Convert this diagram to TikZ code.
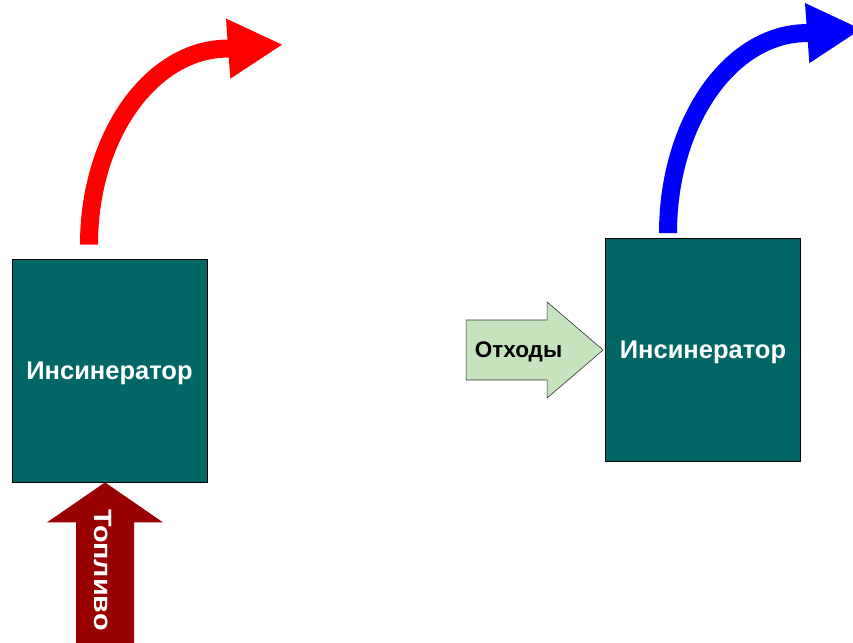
\documentclass[tikz,border=0pt]{standalone}
\usepackage{fontspec}
\setmainfont{Liberation Sans}
\usetikzlibrary{calc}
\usetikzlibrary{arrows.meta}
\definecolor{insteal}{RGB}{0,102,102}
\definecolor{fuelred}{RGB}{153,0,0}
\definecolor{wastegreen}{RGB}{197,227,189}
\begin{document}
\begin{tikzpicture}[x=1pt,y=1pt,
  ins/.style={draw=black,line width=0.8pt,fill=insteal,minimum width=195pt,minimum height=223pt,
    inner sep=0pt,text depth=0pt,text=white,font=\fontsize{25.5}{30}\selectfont\bfseries},
  lbl/.style={text depth=0pt,font=\bfseries},
  flow/.style={line width=18pt,-{Triangle[length=55pt,width=56pt]}}]
    \useasboundingbox (0,0) rectangle (853,642);
    \node[ins] (insL) at (109.5,271.5) {Инсинератор};
    \node[ins] (insR) at (703,292) {Инсинератор};
    \draw[flow,red] ($(insL.north)+(-20.5,14)$) 
        arc[start angle=180,end angle=90,x radius=139,y radius=196] -- ++(55,4);
    \draw[flow,blue] ($(insR.north)+(-35,5)$) 
        arc[start angle=180,end angle=90,x radius=139,y radius=200] -- ++(55,4);
    \fill[fuelred] ($(insL.south)+(-4.5,0)$) coordinate (fueltip) -- ++(58,-40) -- ++(-29,0) 
        -- ++(0,-130) -- ++(-58,0) -- ++(0,130) -- ++(-29,0) -- cycle;
    \node[lbl,font=\fontsize{25}{30}\selectfont\bfseries,rotate=-90,xscale=1.15,text=white] (fuel) at (103,72) {Топливо};
    \draw[fill=wastegreen,draw=black!80,line width=0.6pt] ($(insR.west)+(-2,0)$) coordinate (wastetip) 
        -- ++(-56,48) -- ++(0,-18) -- ++(-81,0) -- ++(0,-60) -- ++(81,0) -- ++(0,-18) -- cycle;
    \node[lbl,font=\fontsize{22.5}{27}\selectfont\bfseries,text=black] (waste) at (518.5,292) {Отходы};
\end{tikzpicture}
\end{document}
